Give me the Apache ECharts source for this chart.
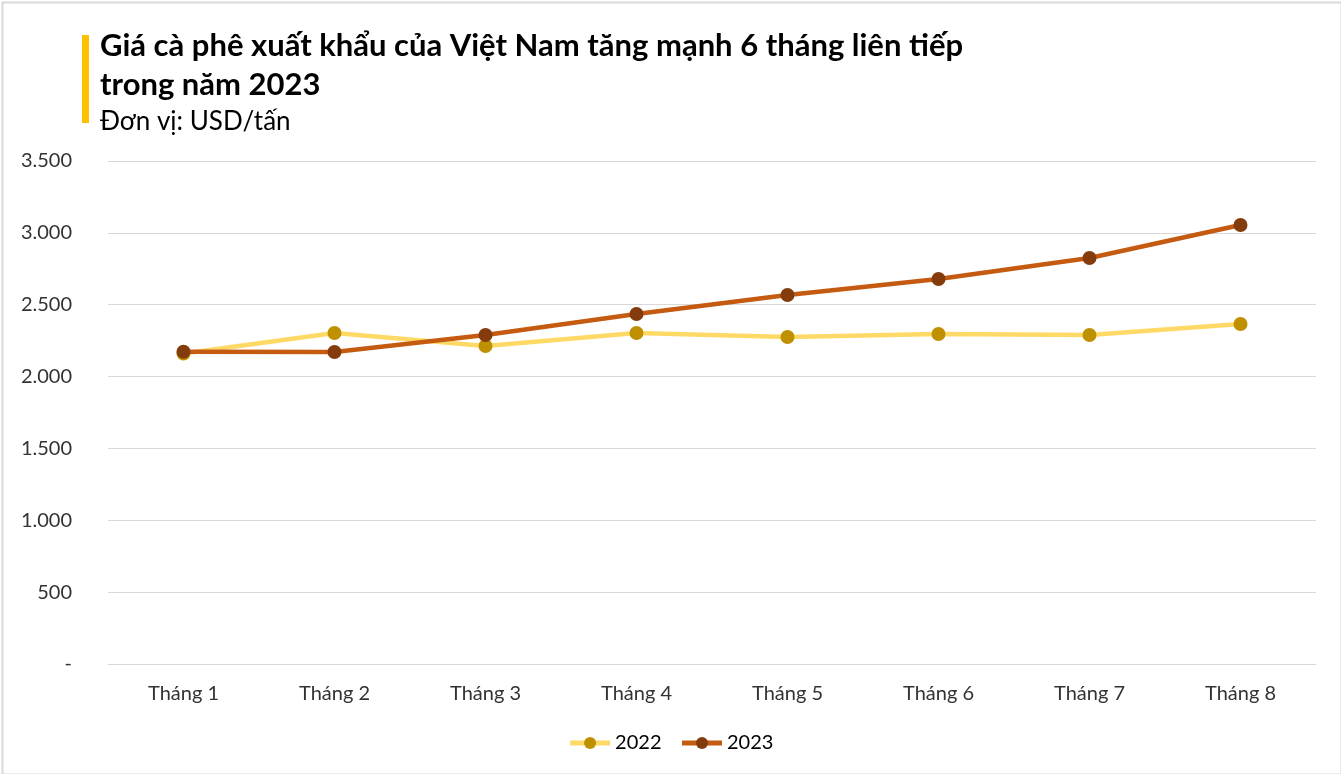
<!DOCTYPE html>
<html><head><meta charset="utf-8">
<script src="https://cdn.jsdelivr.net/npm/echarts@6/dist/echarts.min.js"></script>
<style>html,body{margin:0;padding:0;background:#fff}#c{width:1341px;height:774px}</style>
</head><body><div id="c"></div>
<script>
const categories = ['Tháng 1','Tháng 2','Tháng 3','Tháng 4','Tháng 5','Tháng 6','Tháng 7','Tháng 8'];
const values2022 = [2160, 2303, 2213, 2303, 2275, 2296, 2289, 2366];
const values2023 = [2173, 2171, 2289, 2435, 2568, 2679, 2825, 3055];
const seriesNames = ['2022','2023'];
const titleLine1 = 'Giá cà phê xuất khẩu của Việt Nam tăng mạnh 6 tháng liên tiếp';
const titleLine2 = 'trong năm 2023';
const subtitle = 'Đơn vị: USD/tấn';

const FONT = 'Lato';
const chart = echarts.init(document.getElementById('c'), null, {renderer:'canvas'});
function fmt(v){ if (v === 0) return '-'; return String(v).replace(/\B(?=(\d{3})+(?!\d))/g, '.'); }
chart.setOption({
  animation:false,
  backgroundColor:'#fff',
  textStyle:{fontFamily:FONT},
  graphic:[
    {type:'rect', left:0, top:0, shape:{x:0.5,y:0.5,width:1339,height:772}, style:{fill:'none', stroke:'#d9d9d9', lineWidth:2}},
    {type:'rect', left:82, top:35, shape:{width:7,height:88}, style:{fill:'#FFC000'}},
    {type:'text', left:100, top:30, style:{text:titleLine1, font:'bold 31px "'+FONT+'"', fill:'#000'}},
    {type:'text', left:100, top:69, style:{text:titleLine2, font:'bold 31px "'+FONT+'"', fill:'#000'}},
    {type:'text', left:100, top:109, style:{text:subtitle, font:'26px "'+FONT+'"', fill:'#000'}}
  ],
  legend:{
    bottom:16, left:'center', itemWidth:40, itemHeight:15, itemGap:18,
    lineStyle:{width:5},
    textStyle:{fontSize:20, color:'#000', fontFamily:FONT},
    data:seriesNames
  },
  grid:{left:108, right:25, top:161, bottom:110, containLabel:false},
  xAxis:{
    type:'category', data:categories, boundaryGap:true,
    axisLine:{lineStyle:{color:'#d9d9d9', width:1}},
    axisTick:{show:false},
    axisLabel:{fontSize:20, color:'#333', margin:20, fontFamily:FONT}
  },
  yAxis:{
    type:'value', min:0, max:3500, interval:500,
    axisLine:{show:false}, axisTick:{show:false},
    splitLine:{lineStyle:{color:'#d9d9d9', width:1}},
    axisLabel:{fontSize:20, color:'#333', margin:36, formatter:fmt, fontFamily:FONT}
  },
  series:[
    {name:seriesNames[0], type:'line', data:values2022, symbol:'circle', symbolSize:14,
     lineStyle:{color:'#FFD966', width:4.5}, itemStyle:{color:'#BF9000'}, z:2},
    {name:seriesNames[1], type:'line', data:values2023, symbol:'circle', symbolSize:14,
     lineStyle:{color:'#C55A11', width:4.5}, itemStyle:{color:'#843C0C'}, z:3}
  ]
});
</script></body></html>
